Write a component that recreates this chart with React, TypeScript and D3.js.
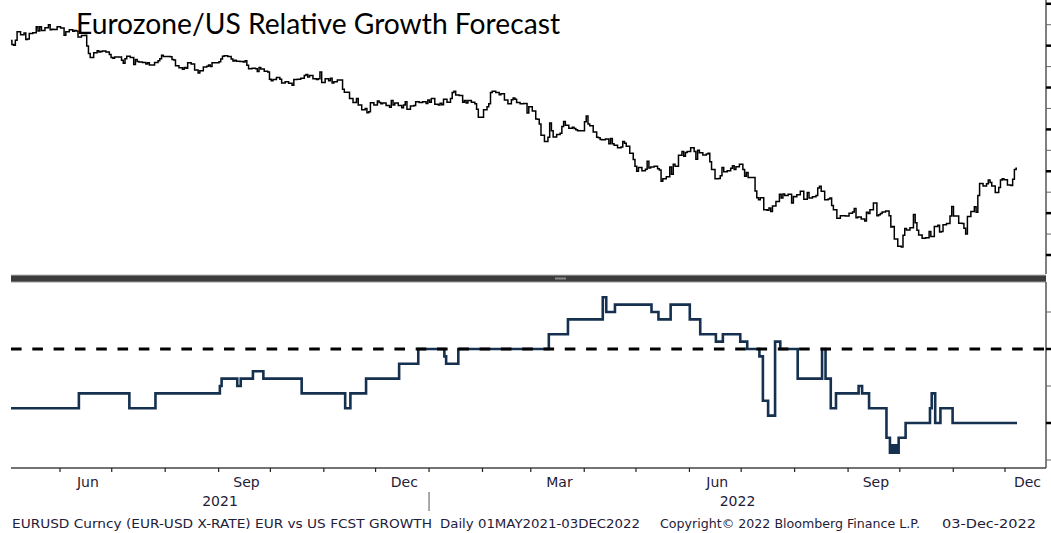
import React from 'react';
import * as d3 from 'd3';

const W = 1051;
const H = 533;

// EURUSD daily closes (weekdays), by month
const eurusdMay2021 = [1.2063,1.2015,1.2005,1.2065,1.2165, 1.2130,1.2150,1.2075,1.2080,1.2145, 1.2155,1.2225,1.2175,1.2225,1.2180, 1.2215,1.2250,1.2190,1.2195,1.2193, 1.2227];
const eurusdJun2021 = [1.2212,1.2212,1.2125,1.2165, 1.2190,1.2172,1.2180,1.2175,1.2105, 1.2120,1.2125,1.1995,1.1905,1.1860, 1.1915,1.1940,1.1925,1.1930,1.1935, 1.1925,1.1895,1.1858];
const eurusdJul2021 = [1.1850,1.1865, 1.1865,1.1825,1.1790,1.1845,1.1875, 1.1860,1.1775,1.1835,1.1812,1.1805, 1.1800,1.1780,1.1795,1.1770,1.1770, 1.1800,1.1820,1.1845,1.1887,1.1870];
const eurusdAug2021 = [1.1870,1.1868,1.1835,1.1830,1.1760, 1.1735,1.1718,1.1740,1.1730,1.1795, 1.1780,1.1710,1.1710,1.1675,1.1700, 1.1745,1.1755,1.1770,1.1750,1.1795, 1.1795,1.1807];
const eurusdSep2021 = [1.1840,1.1875,1.1880, 1.1870,1.1840,1.1818,1.1825,1.1815, 1.1810,1.1805,1.1820,1.1765,1.1725, 1.1730,1.1725,1.1690,1.1740,1.1720, 1.1695,1.1685,1.1600,1.1580];
const eurusdOct2021 = [1.1595, 1.1620,1.1598,1.1555,1.1555,1.1570, 1.1550,1.1528,1.1595,1.1595,1.1600, 1.1610,1.1645,1.1655,1.1625,1.1645, 1.1605,1.1595,1.1605,1.1685,1.1560];
const eurusdNov2021 = [1.1605,1.1580,1.1610,1.1555,1.1568, 1.1590,1.1590,1.1480,1.1445,1.1445, 1.1368,1.1320,1.1320,1.1370,1.1290, 1.1235,1.1250,1.1200,1.1210,1.1318, 1.1290,1.1338];
const eurusdDec2021 = [1.1320,1.1305,1.1315, 1.1285,1.1265,1.1345,1.1290,1.1315, 1.1285,1.1258,1.1290,1.1330,1.1240, 1.1280,1.1285,1.1330,1.1330,1.1320, 1.1330,1.1310,1.1350,1.1325,1.1370];
const eurusdJan2022 = [1.1300,1.1290,1.1312,1.1295,1.1360, 1.1325,1.1368,1.1440,1.1455,1.1410, 1.1405,1.1325,1.1345,1.1315,1.1345, 1.1325,1.1305,1.1240,1.1145,1.1145, 1.1235];
const eurusdFeb2022 = [1.1270,1.1305,1.1440,1.1455, 1.1440,1.1415,1.1425,1.1425,1.1350, 1.1305,1.1355,1.1375,1.1360,1.1320, 1.1305,1.1310,1.1310,1.1195,1.1270, 1.1220];
const eurusdMar2022 = [1.1125,1.1120,1.1065,1.0930, 1.0855,1.0905,1.1075,1.0985,1.0910, 1.0940,1.0955,1.1035,1.1095,1.1050, 1.1015,1.1025,1.1010,1.0995,1.0985, 1.0985,1.1090,1.1160,1.1065];
const eurusdApr2022 = [1.1045, 1.0970,1.0905,1.0900,1.0880,1.0875, 1.0885,1.0830,1.0890,1.0830,1.0810, 1.0780,1.0790,1.0855,1.0835,1.0800, 1.0715,1.0640,1.0560,1.0500,1.0545];
const eurusdMay2022 = [1.0505,1.0525,1.0620,1.0540,1.0550, 1.0560,1.0530,1.0515,1.0380,1.0410, 1.0435,1.0550,1.0465,1.0585,1.0560, 1.0690,1.0735,1.0680,1.0725,1.0735, 1.0780,1.0735];
const eurusdJun2022 = [1.0645,1.0750,1.0720, 1.0695,1.0705,1.0715,1.0615,1.0520, 1.0410,1.0415,1.0445,1.0545,1.0495, 1.0505,1.0535,1.0565,1.0520,1.0555, 1.0585,1.0520,1.0440,1.0485];
const eurusdJul2022 = [1.0425, 1.0425,1.0265,1.0185,1.0160,1.0185, 1.0040,1.0035,1.0060,1.0020,1.0085, 1.0140,1.0225,1.0180,1.0230,1.0210, 1.0225,1.0120,1.0200,1.0195,1.0220];
const eurusdAug2022 = [1.0260,1.0165,1.0165,1.0245,1.0180, 1.0195,1.0210,1.0300,1.0320,1.0260, 1.0160,1.0170,1.0180,1.0090,1.0040, 0.9940,0.9970,0.9970,0.9970,0.9965, 1.0000,1.0015,1.0055];
const eurusdSep2022 = [0.9945,0.9955, 0.9930,0.9905,1.0010,0.9995,1.0040, 1.0120,0.9970,0.9980,0.9995,1.0015, 1.0025,0.9970,0.9835,0.9840,0.9690, 0.9605,0.9595,0.9735,0.9815,0.9800];
const eurusdOct2022 = [0.9825,0.9985,0.9885,0.9795,0.9740, 0.9700,0.9705,0.9705,0.9780,0.9720, 0.9840,0.9855,0.9775,0.9780,0.9860, 0.9875,0.9965,1.0080,0.9965,0.9965, 0.9880];
const eurusdNov2022 = [0.9875,0.9820,0.9750,0.9960, 1.0020,1.0075,1.0010,1.0210,1.0355, 1.0325,1.0350,1.0395,1.0365,1.0325, 1.0245,1.0305,1.0395,1.0410,1.0400, 1.0335,1.0330,1.0405];
const eurusdDec2022 = [1.0520,1.0535];

const eurusdMonths: [number, number, number[]][] = [
  [2021, 4, eurusdMay2021], [2021, 5, eurusdJun2021], [2021, 6, eurusdJul2021],
  [2021, 7, eurusdAug2021], [2021, 8, eurusdSep2021], [2021, 9, eurusdOct2021],
  [2021, 10, eurusdNov2021], [2021, 11, eurusdDec2021], [2022, 0, eurusdJan2022],
  [2022, 1, eurusdFeb2022], [2022, 2, eurusdMar2022], [2022, 3, eurusdApr2022],
  [2022, 4, eurusdMay2022], [2022, 5, eurusdJun2022], [2022, 6, eurusdJul2022],
  [2022, 7, eurusdAug2022], [2022, 8, eurusdSep2022], [2022, 9, eurusdOct2022],
  [2022, 10, eurusdNov2022], [2022, 11, eurusdDec2022],
];

// EUR vs US forecast growth (step changes)
const growthDates = [
  '2021-05-03','2021-06-11','2021-07-10','2021-07-25','2021-08-31','2021-09-01','2021-09-10','2021-09-12',
  '2021-09-19','2021-09-25','2021-10-17','2021-11-11','2021-11-14','2021-11-23','2021-12-12','2021-12-23',
  '2022-01-07','2022-01-08','2022-01-15','2022-03-08','2022-03-19','2022-04-08','2022-04-10','2022-04-15',
  '2022-05-06','2022-05-10','2022-05-17','2022-05-28','2022-06-03','2022-06-12','2022-06-16','2022-06-26',
  '2022-06-30','2022-07-07','2022-07-09','2022-07-12','2022-07-16','2022-07-19','2022-07-29','2022-08-12',
  '2022-08-14','2022-08-17','2022-08-20','2022-09-02','2022-09-04','2022-09-08','2022-09-18','2022-09-20',
  '2022-09-21','2022-09-22','2022-09-23','2022-09-24','2022-09-25','2022-09-29','2022-10-13','2022-10-14',
  '2022-10-16','2022-10-19','2022-10-26','2022-12-02',
];
const growthValues = [
  -0.4, -0.3, -0.4, -0.3, -0.25, -0.2, -0.25, -0.2,
  -0.15, -0.2, -0.3, -0.4, -0.3, -0.2, -0.1, 0,
  -0.05, -0.1, 0, 0.1, 0.2, 0.35, 0.25, 0.3,
  0.25, 0.2, 0.3, 0.2, 0.1, 0.05, 0.1, 0.05,
  0, -0.05, -0.35, -0.45, 0.05, 0, -0.2, 0,
  -0.2, -0.4, -0.3, -0.25, -0.3, -0.4, -0.6, -0.7,
  -0.65, -0.7, -0.65, -0.7, -0.6, -0.5, -0.4, -0.3,
  -0.5, -0.4, -0.5, -0.5,
];

const topMajorTicks = [0.95, 1.0, 1.05, 1.1, 1.15, 1.2, 1.25];
const topMinorTicks = [0.975, 1.025, 1.075, 1.125, 1.175, 1.225];
const botMajorTicks = [-0.5, 0];
const botMinorTicks = [-0.75, -0.25, 0.25];

const monthLabels = [
  { label: 'Jun', y: 2021, m: 5 }, { label: 'Sep', y: 2021, m: 8 }, { label: 'Dec', y: 2021, m: 11 },
  { label: 'Mar', y: 2022, m: 2 }, { label: 'Jun', y: 2022, m: 5 }, { label: 'Sep', y: 2022, m: 8 },
  { label: 'Dec', y: 2022, m: 11 },
];
const yearLabels = ['2021', '2022'];

const titleText = 'Eurozone/US Relative Growth Forecast';
const footerParts = [
  'EURUSD Curncy (EUR-USD X-RATE) EUR vs US FCST GROWTH',
  'Daily 01MAY2021-03DEC2022',
  'Copyright\u00A9 2022 Bloomberg Finance L.P.',
  '03-Dec-2022',
];

function weekdaysOf(year: number, month: number): Date[] {
  const out: Date[] = [];
  const d = new Date(year, month, 1);
  while (d.getMonth() === month) {
    const wd = d.getDay();
    if (wd !== 0 && wd !== 6) out.push(new Date(d));
    d.setDate(d.getDate() + 1);
  }
  return out;
}

const parse = d3.timeParse('%Y-%m-%d');

export default function App() {
  const closes = eurusdMonths.flatMap(([y, m, vals]) => {
    const days = weekdaysOf(y, m);
    return vals.map((v, i) => ({ date: days[i], value: v }));
  });
  const growth = growthDates.map((d, i) => ({ date: parse(d) as Date, value: growthValues[i] }));

  const left = 11;
  const axisX = 1046;
  const x = d3.scaleTime()
    .domain([new Date(2021, 4, 3), new Date(2022, 11, 2)])
    .range([left, 1017]);
  const xTick = d3.scaleTime()
    .domain([new Date(2021, 5, 1), new Date(2022, 11, 1)])
    .range([60, 1005]);

  const yTop = d3.scaleLinear().domain([0.95, 1.25]).range([255, 3.8]);
  const yBot = d3.scaleLinear().domain([-0.5, 0]).range([423, 349]);

  const topLine = d3.line<{ date: Date; value: number }>()
    .x(d => x(d.date)).y(d => yTop(d.value)).curve(d3.curveStep);
  const botLine = d3.line<{ date: Date; value: number }>()
    .x(d => x(d.date)).y(d => yBot(d.value)).curve(d3.curveStepAfter);

  const monthStarts = d3.timeMonth.range(new Date(2021, 5, 1), new Date(2022, 11, 2));
  const axisY = 468;
  const textColor = '#1e2038';

  return (
    <svg width={W} height={H} style={{ position: 'absolute', left: 0, top: 0, background: '#fff' }}
      xmlns="http://www.w3.org/2000/svg">
      <rect x={0} y={0} width={W} height={H} fill="#fff" />
      {/* top panel price line */}
      <path d={topLine(closes) || ''} fill="none" stroke="#000" strokeWidth={1.5} />
      {/* title */}
      <text x={76} y={34} fontFamily="Lato, 'Open Sans', sans-serif" fontSize={28} fill="#000"
        textLength={484} lengthAdjust="spacingAndGlyphs">{titleText}</text>

      {/* top right axis */}
      <line x1={axisX} x2={axisX} y1={0} y2={274} stroke="#555" strokeWidth={1.5} />
      {topMinorTicks.map(t => (
        <line key={'tm' + t} x1={axisX} x2={W} y1={yTop(t)} y2={yTop(t)} stroke="#666" strokeWidth={1} />
      ))}
      {topMajorTicks.map(t => (
        <line key={'tM' + t} x1={axisX} x2={W} y1={yTop(t)} y2={yTop(t)} stroke="#000" strokeWidth={2.5} />
      ))}

      {/* separator bar */}
      <rect x={left} y={275} width={axisX - left} height={7} fill="#3c3c3c" />
      <line x1={left} x2={axisX} y1={275} y2={275} stroke="#bbb" strokeWidth={1} />
      <line x1={left} x2={axisX} y1={282} y2={282} stroke="#999" strokeWidth={1} />
      <rect x={555} y={277.5} width={11} height={2} fill="#8a8a8a" />

      {/* bottom panel */}
      <path d={botLine(growth) || ''} fill="none" stroke="#15314f" strokeWidth={2.6} />
      <line x1={left} x2={axisX} y1={yBot(0)} y2={yBot(0)} stroke="#000" strokeWidth={3}
        strokeDasharray="10.6 10.7" />
      <line x1={axisX} x2={axisX} y1={282} y2={axisY} stroke="#555" strokeWidth={1.5} />
      {botMinorTicks.map(t => (
        <line key={'bm' + t} x1={axisX} x2={W} y1={yBot(t)} y2={yBot(t)} stroke="#666" strokeWidth={1} />
      ))}
      {botMajorTicks.map(t => (
        <line key={'bM' + t} x1={axisX} x2={W} y1={yBot(t)} y2={yBot(t)} stroke="#000" strokeWidth={2.5} />
      ))}

      {/* x axis */}
      <line x1={left} x2={axisX} y1={axisY} y2={axisY} stroke="#444" strokeWidth={1.5} />
      {monthStarts.map(d => (
        <line key={'xt' + d.getTime()} x1={xTick(d)} x2={xTick(d)} y1={axisY} y2={axisY + 4}
          stroke="#222" strokeWidth={1.2} />
      ))}
      {monthLabels.map(ml => {
        const s = xTick(new Date(ml.y, ml.m, 1));
        const e = Math.min(xTick(new Date(ml.y, ml.m + 1, 1)), axisX);
        return (
          <text key={ml.label + ml.y} x={(s + e) / 2 + 2} y={487} textAnchor="middle"
            fontFamily="'DejaVu Sans', Verdana, sans-serif" fontSize={14} fill={textColor}>{ml.label}</text>
        );
      })}
      <text x={(left + xTick(new Date(2022, 0, 1))) / 2} y={506} textAnchor="middle"
        fontFamily="'DejaVu Sans', Verdana, sans-serif" fontSize={14} fill={textColor}>{yearLabels[0]}</text>
      <text x={(xTick(new Date(2022, 0, 1)) + axisX) / 2} y={506} textAnchor="middle"
        fontFamily="'DejaVu Sans', Verdana, sans-serif" fontSize={14} fill={textColor}>{yearLabels[1]}</text>
      <line x1={xTick(new Date(2022, 0, 1))} x2={xTick(new Date(2022, 0, 1))} y1={492} y2={511}
        stroke="#555" strokeWidth={1} />

      {/* footer */}
      {[
        { t: footerParts[0], x: 12, w: 420 },
        { t: footerParts[1], x: 440, w: 200 },
        { t: footerParts[2], x: 660, w: 260 },
        { t: footerParts[3], x: 942, w: 94 },
      ].map(f => (
        <text key={f.t} x={f.x} y={528} fontFamily="'DejaVu Sans', Verdana, sans-serif" fontSize={12.5}
          fill={textColor} textLength={f.w} lengthAdjust="spacingAndGlyphs">{f.t}</text>
      ))}
    </svg>
  );
}
